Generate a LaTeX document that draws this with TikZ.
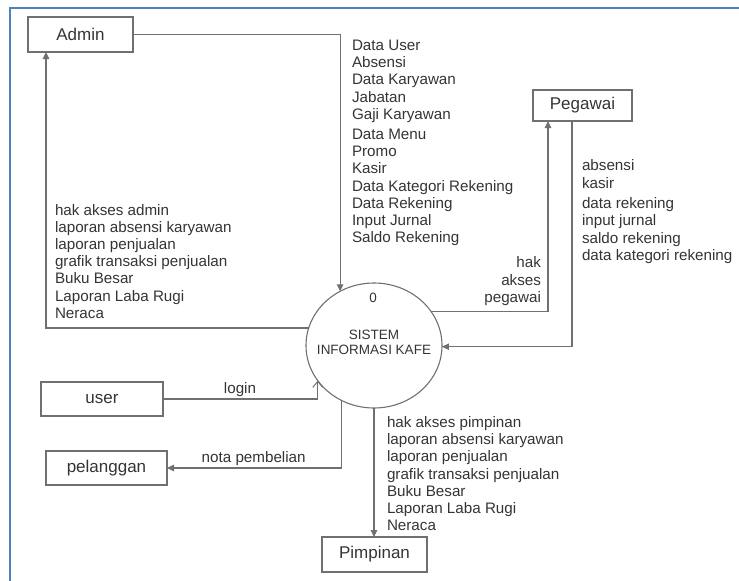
\documentclass[tikz,border=0pt]{standalone}
\usepackage{fontspec}
\setmainfont{Liberation Sans}
\usetikzlibrary{shapes.geometric,arrows.meta}
\definecolor{linec}{RGB}{112,112,112}
\definecolor{txt}{RGB}{52,52,52}
\definecolor{frameblue}{RGB}{79,129,189}
\begin{document}
\begin{tikzpicture}[x=1pt,y=-1pt,
  ent/.style={draw=linec, line width=1.1pt, font=\fontsize{17}{20}\selectfont, text=txt, inner sep=0pt, outer sep=0pt},
  lbl/.style={font=\fontsize{15.2}{17.2}\selectfont, text=txt, inner sep=0pt, outer sep=0pt, align=left, anchor=north west},
  ctext/.style={font=\fontsize{13.5}{15}\selectfont, text=txt, inner sep=0pt, align=center},
  flow/.style={draw=linec, line width=1.1pt, -{Triangle[length=7pt,width=6.5pt]}},
  openflow/.style={draw=linec, line width=1.1pt, -{Straight Barb[length=6pt,width=10pt,line width=1pt]}},
  frame/.style={draw=frameblue, line width=2.2pt}]
\useasboundingbox (0,0) rectangle (739,581);
\draw[frame] (10,581) -- (10,8) -- (739,8);

% entities
\node[ent, minimum width=105pt, minimum height=35pt] (admin) at (80.5,34.5) {Admin};
\node[ent, minimum width=99pt, minimum height=31pt] (peg) at (582.5,105.5) {Pegawai};
\node[ent, minimum width=122pt, minimum height=34pt] (user) at (102,399) {user};
\node[ent, minimum width=121pt, minimum height=34pt] (pel) at (106.5,468) {pelanggan};
\node[ent, minimum width=105pt, minimum height=35pt] (pim) at (374.5,554.5) {Pimpinan};

% process
\node[ellipse, draw=linec, line width=1.1pt, minimum width=136pt, minimum height=125pt, inner sep=0pt, outer sep=0pt] (c) at (374,345.5) {};
\node[ctext, anchor=base] (cnum) at (373,302.3) {0};
\node[ctext, anchor=north] (ctitle) at (374,330.3) {SISTEM\\INFORMASI KAFE};

% flows
\draw[flow] (admin.east) -| (c.122.15);
\draw[flow] (c.165) -| ([xshift=18pt]admin.south west);
\draw[flow] (c.31.3) -| ([xshift=15pt]peg.south west);
\draw[flow] ([xshift=39pt]peg.south west) |- (c.-1.3);
\draw[openflow] (user.east) -| (c.212.4);
\draw[flow] (c.239.9) |- (pel.east);
\draw[flow] (c.south) -- (c.south |- pim.north);

% labels
\node[lbl] (ladmin) at (352,40.1) {Data User\\Absensi\\Data Karyawan\\Jabatan\\Gaji Karyawan\\[3pt]Data Menu\\Promo\\Kasir\\Data Kategori Rekening\\Data Rekening\\Input Jurnal\\Saldo Rekening};
\node[lbl] (ladminout) at (55,204.1) {hak akses admin\\laporan absensi karyawan\\laporan penjualan\\grafik transaksi penjualan\\Buku Besar\\Laporan Laba Rugi\\Neraca};
\node[lbl] (lpeg) at (582,159.8) {absensi\\kasir\\[3.5pt]data rekening\\input jurnal\\saldo rekening\\data kategori rekening};
\node[lbl, align=right, anchor=north east] (lpegout) at (541,256.8) {hak\\akses\\pegawai};
\node[lbl] (lpim) at (387,416.4) {hak akses pimpinan\\laporan absensi karyawan\\laporan penjualan\\grafik transaksi penjualan\\Buku Besar\\Laporan Laba Rugi\\Neraca};
\node[lbl, anchor=base] (llogin) at (240,393.6) {login};
\node[lbl, anchor=base] (lnota) at (253.7,462.5) {nota pembelian};
\end{tikzpicture}
\end{document}
